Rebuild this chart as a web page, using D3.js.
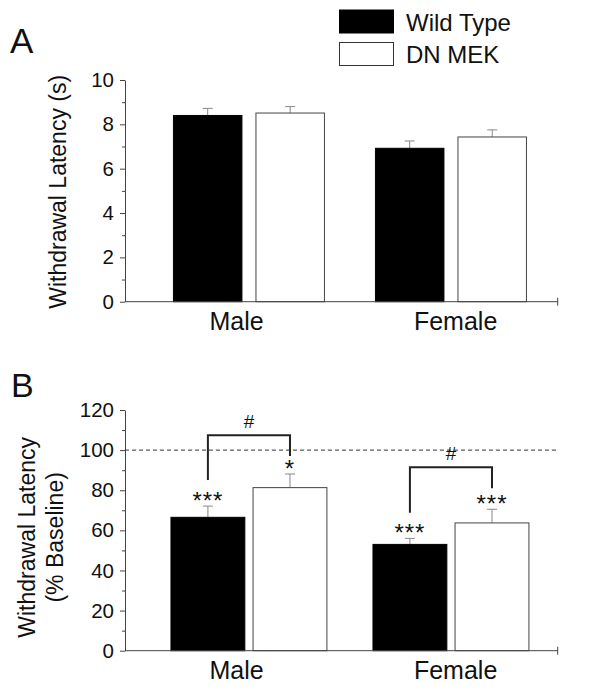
<!DOCTYPE html>
<html>
<head>
<meta charset="utf-8">
<script src="https://cdn.jsdelivr.net/npm/d3@7"></script>
<style>
  body { margin: 0; background: #fff; }
  svg { display: block; font-family: "Liberation Sans", Arial, sans-serif; }
</style>
</head>
<body>
<svg id="chart"></svg>
<script>
// Data
var groups = ["Male", "Female"];
var series = ["Wild Type", "DN MEK"];
var colors = ["#000", "#fff"];

// panel A: withdrawal latency (s)
var latencyA = [[8.40, 8.51], [6.92, 7.43]];
var errA = [[0.32, 0.29], [0.33, 0.32]];
var ticksA = [0, 2, 4, 6, 8, 10];

// panel B: % baseline
var latencyB = [[66.5, 81.3], [53.0, 63.7]];
var errB = [[5.6, 6.8], [3.0, 6.8]];
var sigB = [["***", "*"], ["***", "***"]];
var ticksB = [0, 20, 40, 60, 80, 100, 120];
var baselineB = 100;
// bracket: [left end, right end, top] in % baseline
var bracketB = [[85.1, 97.1, 107.4], [68.8, 81.0, 91.4]];

var FONT = "'Liberation Sans', Arial, sans-serif";
var width = 600, height = 700;
var svg = d3.select("#chart").attr("width", width).attr("height", height);

var axisX = 125, axisEnd = 557.7;

// group scale shared by both panels
var x0 = d3.scaleBand()
    .domain(groups)
    .range([axisX, axisEnd])
    .paddingInner(0.228)
    .paddingOuter(0.185)
    .align(0.615);

var xA = d3.scaleBand().domain(series).range([0, x0.bandwidth()])
    .paddingInner(0.17).paddingOuter(0.03);
var xB = d3.scaleBand().domain(series).range([0, x0.bandwidth()])
    .paddingInner(0.1).paddingOuter(0);

var xLabel = d3.scalePoint().domain(groups).range([axisX, axisEnd])
    .padding(0.488).align(0.52);

var yA = d3.scaleLinear().domain([0, 10]).range([301.7, 80]);
var yB = d3.scaleLinear().domain([0, 120]).range([650.7, 410]);

function drawPanel(y, ticks, minorStep, xi, values, errs) {
    var g = svg.append("g");

    // minor ticks
    var minor = d3.range(ticks[0] + minorStep, ticks[ticks.length - 1], minorStep * 2);
    g.append("g")
        .attr("transform", "translate(" + axisX + ",0)")
        .call(d3.axisLeft(y).tickValues(minor).tickSize(3).tickFormat(""))
        .call(s => s.select(".domain").remove())
        .call(s => s.selectAll("line").attr("stroke", "#444"));

    // major axis
    g.append("g")
        .attr("transform", "translate(" + axisX + ",0)")
        .call(d3.axisLeft(y).tickValues(ticks).tickSize(5).tickSizeOuter(0).tickPadding(6))
        .call(s => s.select(".domain").attr("stroke", "#444"))
        .call(s => s.selectAll("line").attr("stroke", "#444"))
        .call(s => s.selectAll("text")
            .attr("font-size", 20.5)
            .attr("fill", "#111")
            .attr("font-family", FONT));

    // bars
    var bars = [];
    groups.forEach((gname, gi) => {
        series.forEach((sname, si) => {
            bars.push({ g: gname, s: sname, gi: gi, si: si, v: values[gi][si], e: errs[gi][si] });
        });
    });

    // error bars
    var eb = g.append("g").attr("stroke", "#888").attr("stroke-width", 1);
    bars.forEach(d => {
        var cx = x0(d.g) + xi(d.s) + xi.bandwidth() / 2;
        eb.append("line").attr("x1", cx).attr("x2", cx)
            .attr("y1", y(d.v)).attr("y2", y(d.v + d.e));
        eb.append("line").attr("x1", cx - 5).attr("x2", cx + 5)
            .attr("y1", y(d.v + d.e)).attr("y2", y(d.v + d.e));
    });

    g.selectAll("rect.bar")
        .data(bars)
        .join("rect")
        .attr("class", "bar")
        .attr("x", d => x0(d.g) + xi(d.s))
        .attr("width", xi.bandwidth())
        .attr("y", d => y(d.v))
        .attr("height", d => y(0) - y(d.v))
        .attr("fill", d => colors[d.si])
        .attr("stroke", d => d.si === 0 ? "#000" : "#444")
        .attr("stroke-width", 1);

    // x axis line with end tick
    var y0 = y(0);
    g.append("line").attr("x1", axisX).attr("x2", axisEnd)
        .attr("y1", y0).attr("y2", y0).attr("stroke", "#444");
    g.append("line").attr("x1", axisEnd).attr("x2", axisEnd)
        .attr("y1", y0 - 4).attr("y2", y0 + 4).attr("stroke", "#444");

    // category labels
    g.append("g")
        .attr("transform", "translate(0," + y0 + ")")
        .call(d3.axisBottom(xLabel).tickSize(0).tickPadding(11))
        .call(s => s.select(".domain").remove())
        .call(s => s.selectAll("text")
            .attr("font-size", 25)
            .attr("fill", "#111")
            .attr("dy", "0.71em")
            .attr("font-family", FONT));

    return bars;
}

drawPanel(yA, ticksA, 1, xA, latencyA, errA);
var barsB = drawPanel(yB, ticksB, 10, xB, latencyB, errB);

// dashed baseline in B
svg.append("line")
    .attr("x1", axisX).attr("x2", 559)
    .attr("y1", yB(baselineB)).attr("y2", yB(baselineB))
    .attr("stroke", "#333").attr("stroke-width", 1)
    .attr("stroke-dasharray", "4,3");

// significance stars
barsB.forEach(d => {
    var cx = x0(d.g) + xB(d.s) + xB.bandwidth() / 2;
    svg.append("text")
        .attr("x", cx)
        .attr("y", yB(d.v + d.e) + 3)
        .attr("text-anchor", "middle")
        .attr("font-size", 24)
        .attr("letter-spacing", 1)
        .attr("fill", "#111")
        .text(sigB[d.gi][d.si]);
});

// brackets
groups.forEach((gname, gi) => {
    var b = bracketB[gi];
    var xl = x0(gname) + xB(series[0]) + xB.bandwidth() / 2;
    var xr = x0(gname) + xB(series[1]) + xB.bandwidth() / 2;
    svg.append("path")
        .attr("d", "M" + xl + "," + yB(b[0]) + "V" + yB(b[2]) + "H" + xr + "V" + yB(b[1]))
        .attr("fill", "none")
        .attr("stroke", "#222")
        .attr("stroke-width", 2);
    svg.append("text")
        .attr("x", (xl + xr) / 2)
        .attr("y", yB(b[2]) - 7)
        .attr("text-anchor", "middle")
        .attr("font-size", 19)
        .attr("fill", "#111")
        .text("#");
});

// y titles
svg.append("text")
    .attr("transform", "translate(66," + ((yA(0) + yA(10)) / 2 + 1) + ") rotate(-90)")
    .attr("text-anchor", "middle")
    .attr("font-size", 23)
    .attr("fill", "#111")
    .text("Withdrawal Latency (s)");

var tB = svg.append("text")
    .attr("transform", "translate(0," + ((yB(0) + yB(120)) / 2 + 7) + ") rotate(-90)")
    .attr("text-anchor", "middle")
    .attr("font-size", 23)
    .attr("fill", "#111");
tB.append("tspan").attr("x", 0).attr("y", 35).text("Withdrawal Latency");
tB.append("tspan").attr("x", 0).attr("y", 63).text("(% Baseline)");

// panel letters
svg.append("text").attr("x", 10).attr("y", 53).attr("font-size", 35).attr("fill", "#111").text("A");
svg.append("text").attr("x", 11).attr("y", 397).attr("font-size", 34).attr("fill", "#111").text("B");

// legend
var legend = svg.append("g");
series.forEach((s, i) => {
    legend.append("rect")
        .attr("x", 339.5).attr("y", 10 + i * 32.5)
        .attr("width", 54).attr("height", 23)
        .attr("fill", colors[i])
        .attr("stroke", i === 0 ? "#000" : "#333");
    legend.append("text")
        .attr("x", 406).attr("y", 30.7 + i * 32.6)
        .attr("font-size", 24)
        .attr("fill", "#111")
        .text(s);
});
</script>
</body>
</html>
